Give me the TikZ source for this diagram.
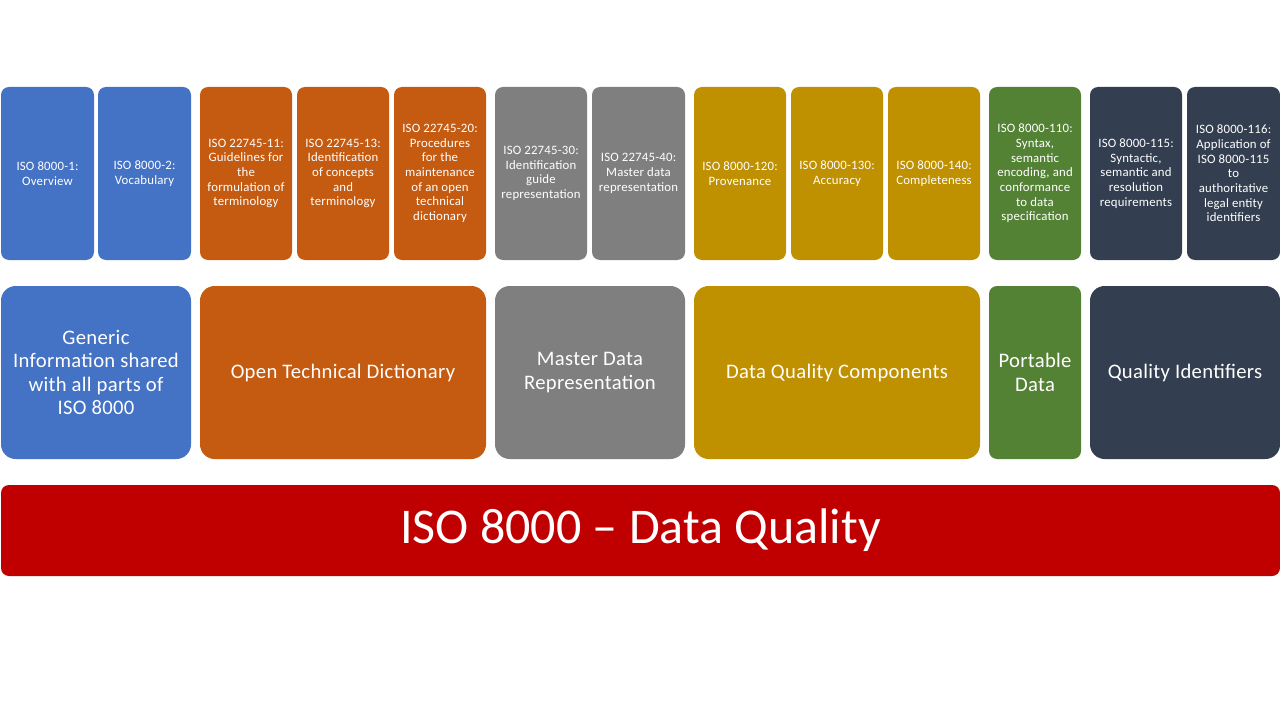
\documentclass[tikz,border=0pt]{standalone}
\usepackage{fontspec}
\setmainfont{Carlito}
\definecolor{cblue}{HTML}{4472C4}
\definecolor{corange}{HTML}{C55A11}
\definecolor{cgray}{HTML}{7F7F7F}
\definecolor{cgold}{HTML}{BF9000}
\definecolor{cgreen}{HTML}{548235}
\definecolor{cnavy}{HTML}{333F50}
\definecolor{cred}{HTML}{C00000}
\newcommand\pbox[8]{%
  \node[#8, fill=#6, minimum width={(#4-#2)*0.75pt}, minimum height={(#5-#3)*0.75pt}]
    (#1) at ({(#2+#4)/2},{(#3+#5)/2}) {#7};}
\tikzset{
  smallbox/.style={rounded corners=6pt, inner sep=0pt, align=center, text=white,
    font=\fontsize{9.6}{11}\selectfont\addfontfeatures{LetterSpace=1.5}},
  bigbox/.style={rounded corners=11pt, inner sep=0pt, align=center, text=white,
    font=\fontsize{15.5}{17.6}\selectfont\addfontfeatures{LetterSpace=1.5}},
  narrowbox/.style={bigbox, rounded corners=6pt},
  basebox/.style={rounded corners=6pt, inner sep=0pt, align=center, text=white,
    font=\fontsize{37.5}{40}\selectfont},
}
\begin{document}
\begin{tikzpicture}[x=0.75pt, y=-0.75pt]
\useasboundingbox[fill=white] (0,0) rectangle (1280,720);
% top row
\pbox{t1}{1}{87}{94}{260}{cblue}{ISO 8000-1:\\Overview}{smallbox}
\pbox{t2}{98}{87}{191}{260}{cblue}{ISO 8000-2:\\Vocabulary}{smallbox}
\pbox{t3}{200}{87}{292}{260}{corange}{ISO 22745-11:\\Guidelines for\\the\\formulation of\\terminology}{smallbox}
\pbox{t4}{297}{87}{389}{260}{corange}{ISO 22745-13:\\Identification\\of concepts\\and\\terminology}{smallbox}
\pbox{t5}{394}{87}{486}{260}{corange}{ISO 22745-20:\\Procedures\\for the\\maintenance\\of an open\\technical\\dictionary}{smallbox}
\pbox{t6}{495}{87}{587}{260}{cgray}{ISO 22745-30:\\Identification\\guide\\representation}{smallbox}
\pbox{t7}{592}{87}{685}{260}{cgray}{ISO 22745-40:\\Master data\\representation}{smallbox}
\pbox{t8}{694}{87}{786}{260}{cgold}{ISO 8000-120:\\Provenance}{smallbox}
\pbox{t9}{791}{87}{883}{260}{cgold}{ISO 8000-130:\\Accuracy}{smallbox}
\pbox{t10}{888}{87}{980}{260}{cgold}{ISO 8000-140:\\Completeness}{smallbox}
\pbox{t11}{989}{87}{1081}{260}{cgreen}{ISO 8000-110:\\Syntax,\\semantic\\encoding, and\\conformance\\to data\\specification}{smallbox}
\pbox{t12}{1090}{87}{1182}{260}{cnavy}{ISO 8000-115:\\Syntactic,\\semantic and\\resolution\\requirements}{smallbox}
\pbox{t13}{1187}{87}{1280}{260}{cnavy}{ISO 8000-116:\\Application of\\ISO 8000-115\\to\\authoritative\\legal entity\\identifiers}{smallbox}
% middle row
\pbox{m1}{1}{286}{191}{459}{cblue}{Generic\\Information shared\\with all parts of\\ISO 8000}{bigbox}
\pbox{m2}{200}{286}{486}{459}{corange}{Open Technical Dictionary}{bigbox}
\pbox{m3}{495}{286}{685}{459}{cgray}{Master Data\\Representation}{bigbox}
\pbox{m4}{694}{286}{980}{459}{cgold}{Data Quality Components}{bigbox}
\pbox{m5}{989}{286}{1081}{459}{cgreen}{Portable\\Data}{narrowbox}
\pbox{m6}{1090}{286}{1280}{459}{cnavy}{Quality Identifiers}{bigbox}
% base
\pbox{base}{1}{485}{1280}{576}{cred}{ISO 8000 -- Data Quality}{basebox}
\end{tikzpicture}
\end{document}
